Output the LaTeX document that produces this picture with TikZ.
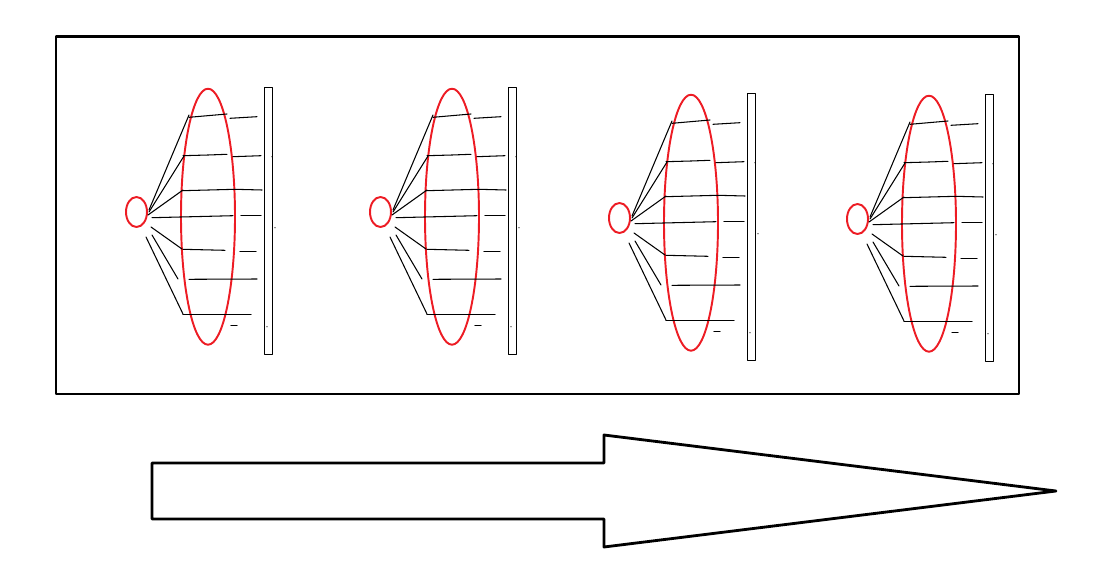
\documentclass[tikz,border=0pt]{standalone}
\definecolor{paintred}{RGB}{237,28,36}
\begin{document}
\begin{tikzpicture}[x=0.02cm,y=-0.02cm,every path/.style={join=round,cap=round}]
    \useasboundingbox (0,0) rectangle (1093,578);
    % frame
    \draw[line width=1.6pt] (56,36.5) rectangle (1019,394);
    % four copies of the same sketch
    \foreach \dx/\dy in {0/0,244/0,483/6,721/7} {
    \begin{scope}[shift={(\dx,\dy)}]
    \draw[paintred,line width=1.1pt] (136.500000,212.000000) ellipse (10.500000 and 15.000000);
    \draw[paintred,line width=1.1pt] (208.000000,216.700000) ellipse (27.000000 and 128.000000);
    \draw[line width=0.6pt] (264.300000,87.300000) rectangle (272.300000,354.500000);
    % fan
    \draw[line width=0.6pt] (149.000000,210.000000) -- (189.000000,115.000000);
    \draw[line width=0.6pt] (149.000000,212.000000) -- (184.000000,156.000000);
    \draw[line width=0.6pt] (148.000000,215.000000) -- (183.000000,190.000000);
    \draw[line width=0.6pt] (151.000000,227.000000) -- (182.000000,249.000000);
    \draw[line width=0.6pt] (152.000000,235.000000) -- (178.000000,279.000000);
    \draw[line width=0.6pt] (146.000000,237.000000) -- (183.000000,314.000000);
    % rungs
    \draw[line width=0.6pt] (189.000000,117.300000) -- (227.000000,114.000000);
    \draw[line width=0.6pt] (230.000000,118.300000) -- (257.000000,116.700000);
    \draw[line width=0.6pt] (183.000000,155.700000) -- (208.000000,155.000000) -- (227.000000,154.300000);
    \draw[line width=0.6pt] (233.000000,156.700000) -- (261.000000,155.700000);
    \draw[line width=0.6pt] (182.000000,190.700000) -- (235.000000,189.300000) -- (262.000000,190.000000);
    \draw[line width=0.6pt] (152.000000,217.700000) -- (233.000000,215.700000);
    \draw[line width=0.6pt] (241.000000,215.700000) -- (261.000000,215.700000);
    \draw[line width=0.6pt] (183.000000,249.300000) -- (225.000000,250.300000);
    \draw[line width=0.6pt] (240.000000,251.300000) -- (256.000000,251.300000);
    \draw[line width=0.6pt] (189.000000,279.300000) -- (257.000000,279.000000);
    \draw[line width=0.6pt] (183.000000,314.300000) -- (251.000000,314.300000);
    \draw[line width=0.6pt] (231.000000,325.700000) -- (237.000000,325.700000);
    % specks by the bar
    \fill (272.000000,156.700000) circle (0.6);
    \fill (275.000000,227.700000) circle (0.6);
    \fill (267.000000,326.700000) circle (0.6);
    \end{scope}
    }
    % big arrow
    \draw[line width=1.6pt] (152,463) -- (604,463) -- (604,435) -- (1056,491) -- (604,547) -- (604,519) -- (152,519) -- cycle;
\end{tikzpicture}
\end{document}
